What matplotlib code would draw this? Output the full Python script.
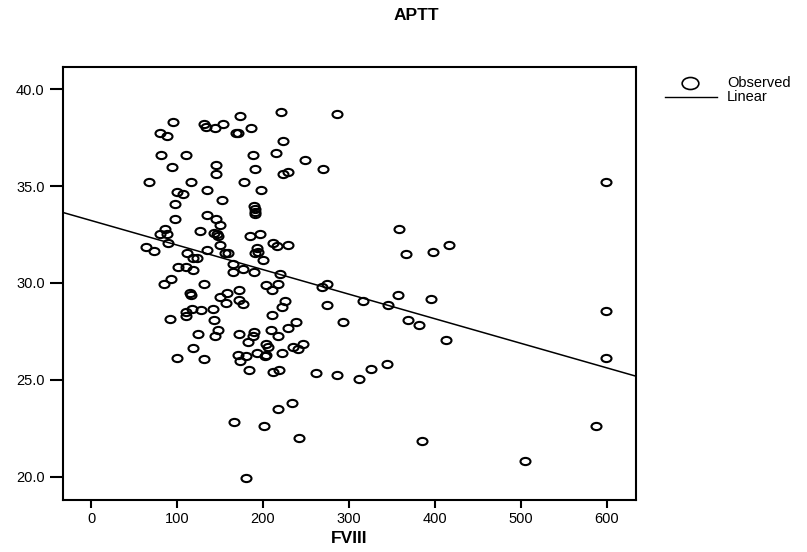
import matplotlib
matplotlib.use("Agg")
import matplotlib.pyplot as plt
import matplotlib.transforms as mtransforms
from matplotlib.path import Path
from matplotlib.lines import Line2D
import numpy as np

plt.rcParams['font.family'] = ['Liberation Sans', 'DejaVu Sans']

# FVIII (x) and APTT (y)
fviii = [95, 80, 88, 131, 134, 144, 154, 173, 169, 171, 185.7, 221, 285.7, 223,
         81, 110, 94, 145, 145, 188.8, 215, 248.8, 191, 223.6, 228.7, 269.8,
         67, 116, 178, 99.6, 107, 135, 197.7, 152.7, 98,
         190, 191, 191, 190.5, 135, 145, 150, 97.7, 126.7, 86, 80, 88.7,
         143, 146, 148, 185, 196, 358,
         63.6, 73.8, 89.9, 150, 134.5, 112, 118.7, 122.7, 155.8, 159.7,
         190.7, 192.6, 194.6, 165.5, 177, 165.5, 189.9, 100.8, 110.5, 118.2,
         92.6, 85.2, 131.5, 115, 116, 172, 157.8, 150, 156.6, 172, 177, 142,
         117, 111, 110.5, 127.6, 91.9, 143.4, 148, 144, 124.8, 172, 190, 188.8,
         183, 118.7, 99.7, 131, 171.3, 180, 173.3, 183.7, 192.6,
         212, 216, 229.4, 199.6, 219.8, 204, 211, 217.8, 268.3, 274, 316,
         345.7, 357, 225.6, 221.7, 274, 210, 293.4, 238, 229.4, 209.3, 217,
         204, 206, 204, 202, 221.7, 235, 241, 246.9, 211.8, 218.4, 261.6,
         285.7, 312, 325.6, 343.8, 217, 233.8, 166.7, 201.5, 241.9, 180,
         599.6, 366, 398, 416.7, 395, 368.9, 381.8, 412.4, 599.6, 599.6,
         587.2, 384.5, 504.7]
aptt = [38.31, 37.74, 37.6, 38.2, 38.05, 38.0, 38.22, 38.6, 37.74, 37.74, 38.0, 38.82, 38.74, 37.31,
        36.6, 36.6, 35.99, 36.1, 35.6, 36.6, 36.7, 36.33, 35.9, 35.61, 35.7, 35.9,
        35.2, 35.2, 35.2, 34.68, 34.58, 34.8, 34.78, 34.3, 34.06,
        33.95, 33.8, 33.65, 33.55, 33.5, 33.29, 33.0, 33.29, 32.68, 32.79, 32.5, 32.5,
        32.58, 32.5, 32.4, 32.4, 32.5, 32.8,
        31.86, 31.65, 32.06, 31.95, 31.69, 31.55, 31.26, 31.31, 31.52, 31.55,
        31.52, 31.8, 31.6, 31.0, 30.74, 30.57, 30.57, 30.8, 30.8, 30.66,
        30.18, 29.97, 29.97, 29.48, 29.37, 29.66, 29.48, 29.28, 28.97, 29.14, 28.9, 28.66,
        28.68, 28.5, 28.28, 28.59, 28.16, 28.08, 27.56, 27.25, 27.34, 27.34, 27.47, 27.25,
        26.96, 26.65, 26.15, 26.05, 26.27, 26.23, 25.96, 25.53, 26.4,
        32.06, 31.9, 31.98, 31.17, 30.48, 29.88, 29.66, 29.97, 29.8, 29.97, 29.07,
        28.85, 29.37, 29.07, 28.76, 28.85, 28.37, 27.96, 27.96, 27.65, 27.56, 27.25,
        26.87, 26.7, 26.27, 26.23, 26.36, 26.67, 26.6, 26.84, 25.41, 25.53, 25.33,
        25.24, 25.03, 25.55, 25.84, 23.52, 23.83, 22.8, 22.62, 22.0, 19.91,
        35.2, 31.48, 31.57, 31.98, 29.16, 28.08, 27.85, 27.04, 28.56, 26.15,
        22.62, 21.83, 20.8]

# linear fit as drawn in the chart
fit_intercept = 33.22
fit_slope = -0.01267

x_ticks = [0, 100, 200, 300, 400, 500, 600]
y_ticks = [20.0, 25.0, 30.0, 35.0, 40.0]

W, H = 807, 552
fig = plt.figure(figsize=(W / 100, H / 100), dpi=100)
ax = fig.add_axes([62.7 / W, 1 - 500 / H, (636 - 62.7) / W, (500 - 67) / H])

# SPSS circles come out a bit flattened
ellipse = Path.unit_circle().transformed(mtransforms.Affine2D().scale(1.0, 0.72))

ax.plot(fviii, aptt, ls='none', marker=ellipse, ms=7.2,
        mfc='none', mec='black', mew=1.5)

ax.set_xlim(-33, 634)
ax.set_ylim(18.8, 41.14)

xs = np.array(ax.get_xlim())
ax.plot(xs, fit_intercept + fit_slope * xs, color='black', lw=1.1)

ax.set_xticks(x_ticks)
ax.set_xticklabels([str(t) for t in x_ticks])
ax.set_yticks(y_ticks)
ax.set_yticklabels([f"{t:.1f}" for t in y_ticks])

for sp in ax.spines.values():
    sp.set_linewidth(1.5)
ax.tick_params(axis='x', direction='out', length=5.5, width=1.5, pad=3, labelsize=10.5)
ax.tick_params(axis='y', direction='out', length=9.5, width=1.5, pad=3.5, labelsize=10.5)

ax.set_xlabel("FVIII", fontsize=12.5, fontweight='bold', labelpad=4)
fig.text(416 / W, 1 - 16 / H, "APTT", ha='center', va='center',
         fontsize=12.5, fontweight='bold')

# legend, drawn by hand to the right of the plot
fig.add_artist(Line2D([690 / W], [1 - 83 / H], transform=fig.transFigure,
                      marker=ellipse, ms=12, mfc='none', mec='black', mew=1.2, ls='none'))
fig.text(727 / W, 1 - 83 / H, "Observed", ha='left', va='center', fontsize=10.5)
fig.add_artist(Line2D([665 / W, 717 / W], [1 - 97 / H, 1 - 97 / H],
                      transform=fig.transFigure, color='black', lw=1.0))
fig.text(727 / W, 1 - 97 / H, "Linear", ha='left', va='center', fontsize=10.5)

fig.savefig("out.png", dpi=100)
